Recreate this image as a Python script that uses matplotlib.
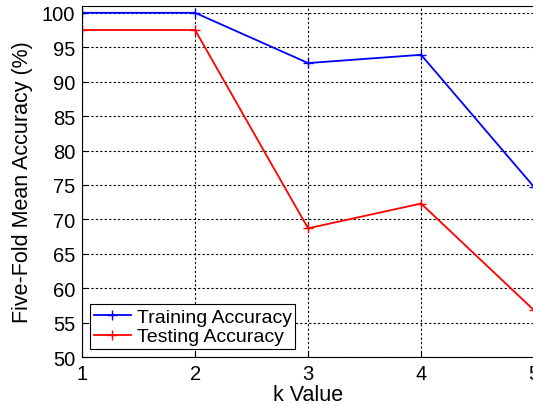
import matplotlib
matplotlib.use("Agg")
import matplotlib.pyplot as plt

# data
k_values = [1, 2, 3, 4, 5]
train_acc = [100.0, 100.0, 92.7, 93.9, 74.7]
test_acc = [97.5, 97.5, 68.7, 72.3, 56.8]

plt.rcParams['font.family'] = ['Liberation Sans', 'DejaVu Sans']

fig = plt.figure(figsize=(5.33, 4.06), dpi=100)
ax = fig.add_axes([0.154, 0.118, 0.848, 0.865])

ax.plot(k_values, train_acc, color='blue', marker='+', markersize=7, linewidth=1.3, label='Training Accuracy')
ax.plot(k_values, test_acc, color='red', marker='+', markersize=7, linewidth=1.3, label='Testing Accuracy')

ax.set_xlim(1, 5)
ax.set_ylim(50, 101)
ax.set_xticks(k_values)
ax.set_yticks(range(50, 101, 5))
ax.tick_params(labelsize=14.5, direction='in', length=4, pad=5)
ax.grid(True, linestyle=(0, (2, 2)), color='black', linewidth=0.8)

ax.set_xlabel('k Value', fontsize=15.5, labelpad=1)
ax.set_ylabel('Five-Fold Mean Accuracy (%)', fontsize=15.5, labelpad=6)

leg = ax.legend(loc='lower left', fontsize=14, fancybox=False, framealpha=1,
                edgecolor='black', borderaxespad=0.4, handlelength=1.9,
                handletextpad=0.3, borderpad=0.2, labelspacing=0.1)
leg.get_frame().set_linewidth(0.8)

fig.savefig('out.png', dpi=100)
